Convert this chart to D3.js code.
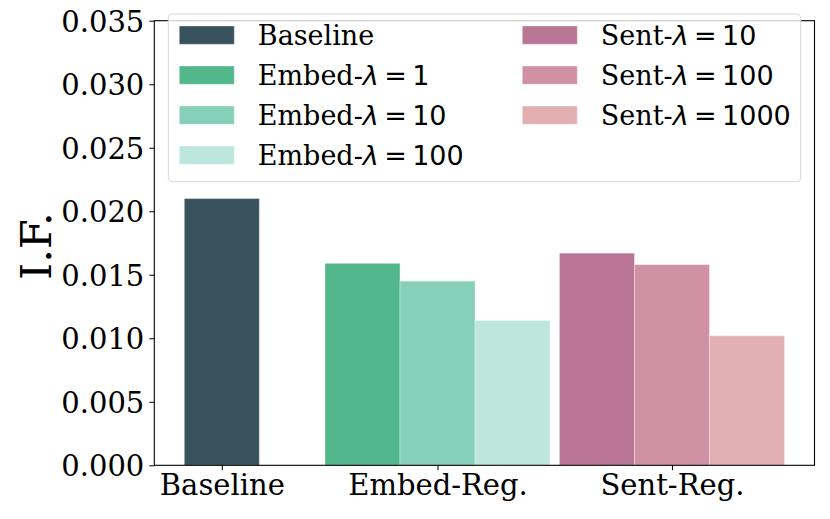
<!DOCTYPE html>
<html>
<head>
<meta charset="utf-8">
<script src="https://cdn.jsdelivr.net/npm/d3@7"></script>
<style>
  html, body { margin: 0; padding: 0; background: #fff; }
  svg { display: block; }
</style>
</head>
<body>
<div id="chart"></div>
<script>
// ---- data ----
const groups = ["Baseline", "Embed-Reg.", "Sent-Reg."];
const seriesNames = ["Baseline", "Embed-λ = 1", "Embed-λ = 10", "Embed-λ = 100", "Sent-λ = 10", "Sent-λ = 100", "Sent-λ = 1000"];
const seriesGroup = [0, 1, 1, 1, 2, 2, 2];
const seriesValues = [0.0210, 0.0159, 0.0145, 0.0114, 0.0167, 0.0158, 0.0102];
const seriesColors = ["#38535e", "#53b78c", "#86cfb9", "#bde6dc", "#b97594", "#d191a4", "#e2b0b3"];
const yTicks = [0, 0.005, 0.010, 0.015, 0.020, 0.025, 0.030, 0.035];
const yLabel = "I.F.";

// ---- layout ----
const W = 830, H = 519;
const plot = { left: 154.3, right: 814.5, top: 20.7, bottom: 465.3 };
const groupStart = [0, 1.875, 5];   // left edge of first bar of each group, in bar-width units
const barW = 1;

const idxInGroup = seriesGroup.map((g, i) => seriesGroup.slice(0, i).filter(v => v === g).length);
const groupCount = groups.map((_, g) => seriesGroup.filter(v => v === g).length);
const bars = seriesNames.map((name, i) => ({
  name, value: seriesValues[i], color: seriesColors[i],
  x0: groupStart[seriesGroup[i]] + idxInGroup[i] * barW
}));
const groupCenters = groups.map((_, g) => groupStart[g] + groupCount[g] * barW / 2);
const xMax = d3.max(bars, b => b.x0 + barW);
const pad = 0.05 * xMax;

const x = d3.scaleLinear().domain([-pad, xMax + pad]).range([plot.left, plot.right]);
const y = d3.scaleLinear().domain([0, 0.035]).range([plot.bottom, plot.top]);

const svg = d3.select("#chart").append("svg").attr("width", W).attr("height", H);

// bars
svg.append("g").selectAll("rect").data(bars).join("rect")
  .attr("x", d => x(d.x0))
  .attr("y", d => y(d.value))
  .attr("width", d => x(d.x0 + barW) - x(d.x0))
  .attr("height", d => y(0) - y(d.value))
  .attr("fill", d => d.color)
  .attr("stroke", "rgba(255,255,255,0.35)")
  .attr("stroke-width", 1);

// axes
const serif = "'DejaVu Serif', serif";
const yAxis = d3.axisLeft(y).tickValues(yTicks).tickFormat(d3.format(".3f")).tickSize(5).tickPadding(5);
const gy = svg.append("g").attr("transform", `translate(${plot.left},0)`).call(yAxis);
gy.select(".domain").remove();
gy.selectAll("text").attr("font-family", serif).attr("font-size", 29).attr("fill", "#000").attr("dy", "0.36em");
gy.selectAll("line").attr("stroke", "#000").attr("stroke-width", 1);

const xAxis = d3.axisBottom(x).tickValues(groupCenters).tickFormat((d, i) => groups[i]).tickSize(5).tickPadding(4);
const gx = svg.append("g").attr("transform", `translate(0,${plot.bottom})`).call(xAxis);
gx.select(".domain").remove();
gx.selectAll("text").attr("font-family", serif).attr("font-size", 29).attr("fill", "#000");
gx.selectAll("line").attr("stroke", "#000").attr("stroke-width", 1);

// spines
svg.append("rect")
  .attr("x", plot.left).attr("y", plot.top)
  .attr("width", plot.right - plot.left).attr("height", plot.bottom - plot.top)
  .attr("fill", "none").attr("stroke", "#000").attr("stroke-width", 1.1);

// y label
svg.append("text")
  .attr("transform", `translate(51,${(plot.top + plot.bottom) / 2 + 3}) rotate(-90)`)
  .attr("text-anchor", "middle")
  .attr("font-family", serif).attr("font-size", 43).attr("fill", "#000")
  .text(yLabel);

// legend
const leg = svg.append("g");
leg.append("rect")
  .attr("x", 168.3).attr("y", 14).attr("width", 800.7 - 168.3).attr("height", 181.7 - 14)
  .attr("rx", 4).attr("ry", 4)
  .attr("fill", "rgba(255,255,255,0.8)").attr("stroke", "#d6d6d6").attr("stroke-width", 1);

const colX = [179.3, 522.3];
const rowY0 = 26, rowStep = 40;
const colOf = i => (seriesGroup[i] === 2 ? 1 : 0);
const rowOf = i => (seriesGroup[i] === 2 ? idxInGroup[i] : (seriesGroup[i] === 0 ? 0 : 1 + idxInGroup[i]));

bars.forEach((b, i) => {
  const px = colX[colOf(i)], py = rowY0 + rowOf(i) * rowStep;
  leg.append("rect").attr("x", px).attr("y", py).attr("width", 55).attr("height", 18.3)
    .attr("fill", b.color).attr("stroke", "rgba(255,255,255,0.35)");
  const t = leg.append("text").attr("x", px + 78.5).attr("y", py + 19)
    .attr("font-family", serif).attr("font-size", 27).attr("fill", "#000");
  const m = b.name.match(/^(.*)λ = (.*)$/);
  if (m) {
    t.append("tspan").text(m[1]);
    t.append("tspan").attr("font-family", "'DejaVu Sans', sans-serif").attr("font-style", "italic").text("λ");
    t.append("tspan").attr("font-family", "'DejaVu Sans', sans-serif").text("\u2009=\u2009" + m[2]);
  } else {
    t.text(b.name);
  }
});
</script>
</body>
</html>
